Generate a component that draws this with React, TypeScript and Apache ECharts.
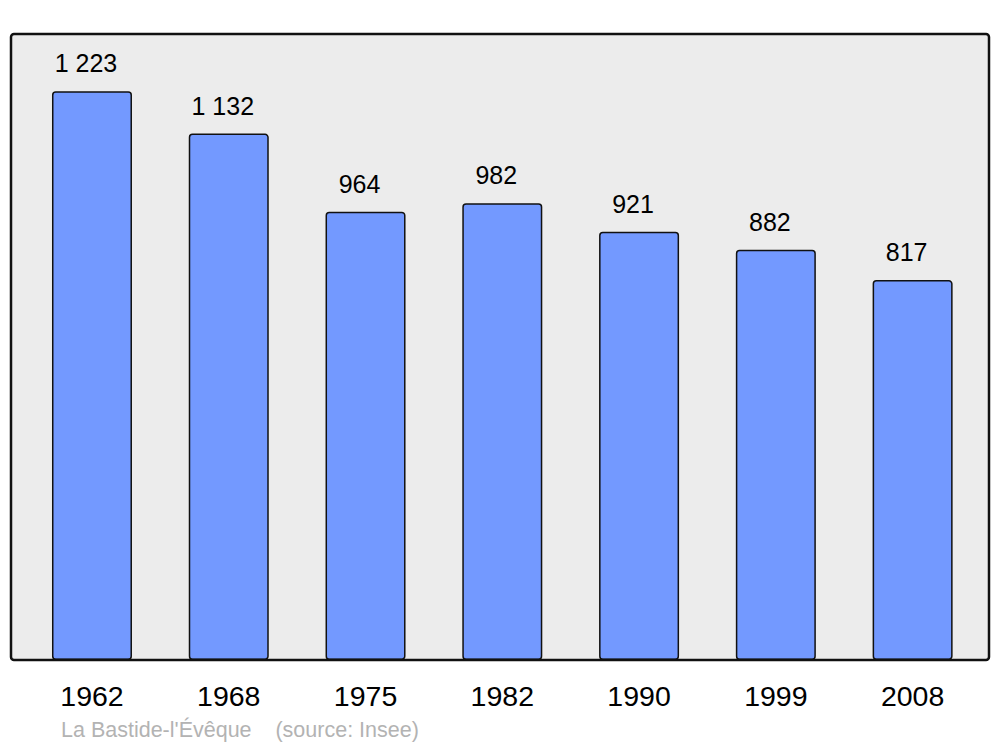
import React, { useEffect, useRef } from "react";
import * as echarts from "echarts";

const years = ["1962", "1968", "1975", "1982", "1990", "1999", "2008"];
const population = [1223, 1132, 964, 982, 921, 882, 817];
const sourceText = "La Bastide-l'Évêque    (source: Insee)";

function fmt(v: number): string {
  const s = String(v);
  return s.length > 3 ? s.slice(0, s.length - 3) + " " + s.slice(-3) : s;
}

export default function App() {
  const ref = useRef<HTMLDivElement>(null);
  useEffect(() => {
    if (!ref.current) return;
    const chart = echarts.init(ref.current, undefined, { renderer: "svg" });
    chart.setOption({
      animation: false,
      textStyle: { fontFamily: "Liberation Sans, Arial, sans-serif" },
      grid: { left: 23.6, right: 19, top: 34, bottom: 87 },
      xAxis: {
        type: "category",
        data: years,
        axisLine: { show: false },
        axisTick: { show: false },
        axisLabel: { color: "#000", fontSize: 28.5, margin: 21, fontFamily: "Liberation Sans" },
      },
      yAxis: {
        type: "value",
        min: 0,
        max: 1346,
        show: false,
        splitLine: { show: false },
      },
      graphic: [
        {
          type: "rect",
          z: -10,
          shape: { x: 11, y: 34, width: 978, height: 626, r: 3 },
          style: { fill: "#ececec", stroke: "none" },
        },
        {
          type: "rect",
          z: 100,
          shape: { x: 11, y: 34, width: 978, height: 626, r: 3 },
          style: { fill: "none", stroke: "#111", lineWidth: 2.5 },
        },
        {
          type: "text",
          z: 100,
          x: 61,
          y: 730,
          style: {
            text: sourceText,
            fill: "#b3b3b3",
            fontSize: 21.5,
            fontFamily: "Liberation Sans",
            verticalAlign: "middle",
          },
        },
      ],
      series: [
        {
          type: "bar",
          data: population,
          barWidth: 80,
          itemStyle: {
            color: "#7399ff",
            borderColor: "#111",
            borderWidth: 1.5,
            borderRadius: 3,
          },
          label: {
            show: true,
            position: "top",
            distance: 15.5,
            offset: [-6, 0],
            color: "#000",
            fontSize: 25,
            fontFamily: "Liberation Sans",
            formatter: (p: any) => fmt(p.value),
          },
        },
      ],
    });
    return () => chart.dispose();
  }, []);
  return <div ref={ref} style={{ width: 1000, height: 747, position: "absolute", left: 0, top: 0 }} />;
}
